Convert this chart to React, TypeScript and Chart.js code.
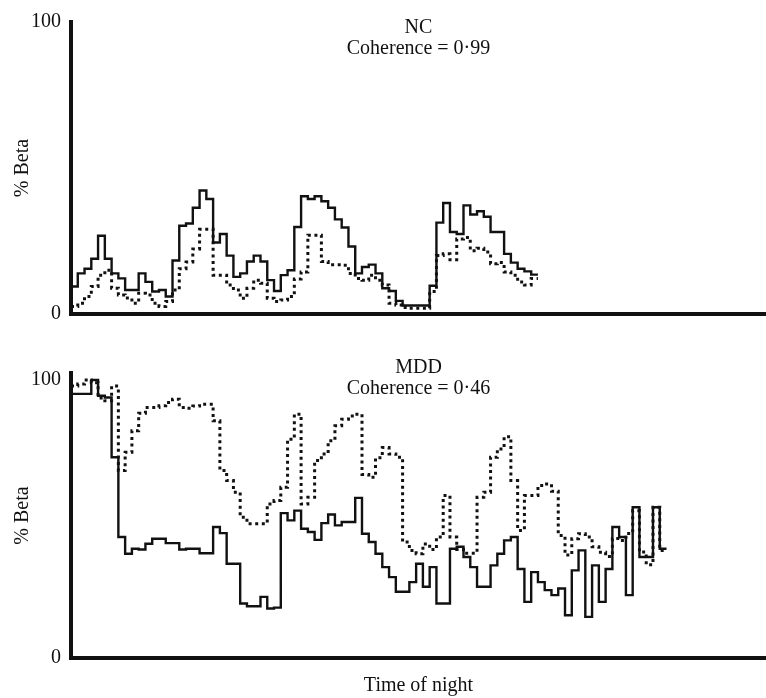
import React, { useEffect, useRef } from "react";
import { Chart, registerables } from "chart.js";

Chart.register(...registerables);

// ---- data (one value per epoch, % beta) ----
const NC_SOLID = [
  9.4, 13.9, 15.5, 18.9, 26.8, 18.9, 13.9, 12.2, 8.2, 8.2,
  13.9, 11, 7.7, 8.2, 6, 18.3, 30.2, 31, 36.4, 42.3,
  39.4, 24.5, 27.4, 20, 12.7, 13.9, 18, 20, 18, 11.6,
  7.9, 13.3, 15, 29.8, 40.3, 39.4, 40.3, 38.6, 36.4, 32.4,
  29.6, 23.1, 13.9, 16.1, 16.9, 13.9, 8.8, 7.9, 4.5, 2.9,
  2.9, 2.9, 2.9, 9.7, 31.3, 38, 28.1, 27.4, 37.2, 34.1,
  35.2, 33.3, 28.1, 28.1, 20.6, 17.6, 15.5, 14.6, 13.5,
];
const NC_DOTTED = [
  2.6, 3.7, 6, 9.4, 13.3, 15, 8.8, 6.5, 5.5, 3.7,
  7.1, 6.5, 3.7, 2.6, 4.3, 8.2, 15.5, 17.8, 22.3, 29,
  29, 13.3, 13.3, 9.9, 8.2, 5.4, 8.8, 11.6, 10.5, 5.4,
  4.3, 4.8, 6, 12, 14.4, 27, 27, 18, 16.9, 16.9,
  16.7, 13.9, 12.2, 11.6, 13.3, 11.6, 9.9, 3.7, 3.1, 2.2,
  2, 2, 2, 7.7, 20, 20.6, 18.6, 25.7, 26.2, 21.7,
  22.5, 21.2, 17.2, 17.6, 14.4, 13.3, 11, 9.9, 12.2,
];
const MDD_SOLID = [
  95, 95, 95, 100, 94.3, 93.7, 72.2, 43.5, 37.5, 39.3,
  39, 41.1, 42.9, 42.9, 41.3, 41.3, 39, 39.3, 39.3, 37.7,
  37.7, 47.1, 44.9, 33.9, 33.9, 19.6, 18.6, 18.6, 22, 17.8,
  18.1, 52.1, 49.5, 53, 46.5, 45.3, 42.5, 48.5, 51.6, 47.7,
  48.9, 48.9, 57.6, 44.7, 41.7, 37.5, 32.7, 29.1, 23.8, 23.8,
  27.3, 33.9, 25.6, 32.7, 19.6, 19.6, 39.3, 40, 36.3, 32.7,
  25.6, 25.6, 33.3, 37.5, 42.3, 43.5, 32, 20.2, 30.9, 27.3,
  24.4, 22.6, 25, 15.4, 31.5, 38.7, 14.8, 33.3, 20.2, 32,
  47.1, 43.5, 22.6, 54.2, 36.3, 36.3, 54.2, 39.3,
];
const MDD_DOTTED = [
  97.8, 98.5, 100, 99, 93.5, 92.5, 97.8, 67.4, 74, 81.7,
  88, 90.1, 90.1, 90.7, 91.9, 93.1, 90.1, 89.8, 90.6, 91.3,
  91.3, 85.3, 67.4, 63.8, 59.6, 50.6, 48.3, 48.3, 48.3, 55.4,
  56.6, 61.4, 78.7, 87.7, 55.4, 57.8, 71, 73.4, 78.1, 83.5,
  85.9, 87, 87.7, 66, 65, 72, 75.7, 73.4, 72.2, 41.7,
  38.7, 37.5, 41, 39, 43.5, 58.4, 43.5, 39, 37.7, 37.7,
  57.8, 59.6, 72.2, 75.2, 79.6, 63.8, 45.9, 58.4, 58.4, 62,
  62.6, 60, 44.1, 37, 42.9, 44.7, 43.5, 40, 38, 36.5,
  43, 42.3, 44.8, 53, 38.1, 33.5, 54.2, 38.7,
];

const Y_TICKS = [0, 100];
const NC_TITLE = ["NC", "Coherence = 0·99"];
const MDD_TITLE = ["MDD", "Coherence = 0·46"];
const Y_LABEL = "% Beta";
const X_LABEL = "Time of night";
const X_EPOCHS = 102.7;

const INK = "#111111";
const FONT = { family: '"Liberation Serif", "Times New Roman", serif', size: 20 };

function toSteps(values: number[]) {
  const pts = values.map((v, i) => ({ x: i, y: v }));
  pts.push({ x: values.length, y: values[values.length - 1] });
  return pts;
}

const panelTitlePlugin = {
  id: "panelTitle",
  afterDraw(chart: any, _args: any, opts: any) {
    if (!opts || !opts.lines) return;
    const { ctx, chartArea } = chart;
    ctx.save();
    ctx.font = `${FONT.size}px ${FONT.family}`;
    ctx.fillStyle = INK;
    ctx.textAlign = "center";
    ctx.textBaseline = "alphabetic";
    const cx = (chartArea.left + chartArea.right) / 2;
    opts.lines.forEach((t: string, i: number) => {
      ctx.fillText(t, cx, opts.baseline + i * opts.gap);
    });
    ctx.restore();
  },
};

function makeConfig(
  solid: number[],
  dotted: number[],
  title: string[],
  yMax: number,
  padTop: number,
  xAxisHeight: number,
  showXTitle: boolean
): any {
  return {
    type: "line",
    data: {
      datasets: [
        {
          data: toSteps(dotted),
          stepped: true,
          borderColor: INK,
          borderWidth: 3,
          borderDash: [3, 3.6],
          borderCapStyle: "butt",
          pointRadius: 0,
          fill: false,
        },
        {
          data: toSteps(solid),
          stepped: true,
          borderColor: INK,
          borderWidth: 2.4,
          pointRadius: 0,
          fill: false,
        },
      ],
    },
    options: {
      responsive: false,
      animation: false,
      parsing: false,
      layout: { padding: { top: padTop, left: 0, right: 0, bottom: 0 } },
      plugins: {
        legend: { display: false },
        tooltip: { enabled: false },
        panelTitle: { lines: title, baseline: 33, gap: 21 },
      },
      scales: {
        x: {
          type: "linear",
          min: 0,
          max: X_EPOCHS,
          grid: { display: false, drawTicks: false },
          ticks: { display: false },
          border: { display: true, width: 4, color: INK },
          title: {
            display: showXTitle,
            text: X_LABEL,
            font: FONT,
            color: INK,
            padding: { top: 0, bottom: 0 },
          },
          afterFit: (s: any) => {
            s.height = xAxisHeight;
          },
        },
        y: {
          type: "linear",
          min: 0,
          max: yMax,
          afterBuildTicks: (s: any) => {
            s.ticks = Y_TICKS.map((v) => ({ value: v }));
          },
          grid: { display: false, drawTicks: false },
          border: { display: true, width: 4, color: INK },
          ticks: { padding: 10, font: FONT, color: INK },
          title: {
            display: true,
            text: Y_LABEL,
            font: FONT,
            color: INK,
            padding: { top: 11, bottom: 0 },
          },
          afterFit: (s: any) => {
            s.width = 71;
          },
        },
      },
    },
    plugins: [panelTitlePlugin],
  };
}

export default function App() {
  const topRef = useRef<HTMLCanvasElement>(null);
  const botRef = useRef<HTMLCanvasElement>(null);

  useEffect(() => {
    document.body.style.margin = "0";
    const c1 = new Chart(
      topRef.current as HTMLCanvasElement,
      makeConfig(NC_SOLID, NC_DOTTED, NC_TITLE, 100, 20, 26, false)
    );
    const c2 = new Chart(
      botRef.current as HTMLCanvasElement,
      makeConfig(MDD_SOLID, MDD_DOTTED, MDD_TITLE, 102.5, 33, 40, true)
    );
    return () => {
      c1.destroy();
      c2.destroy();
    };
  }, []);

  return (
    <div style={{ position: "relative", width: 766, height: 698, background: "#fff" }}>
      <canvas
        ref={topRef}
        width={766}
        height={340}
        style={{ position: "absolute", left: 0, top: 0, width: 766, height: 340 }}
      />
      <canvas
        ref={botRef}
        width={766}
        height={358}
        style={{ position: "absolute", left: 0, top: 340, width: 766, height: 358 }}
      />
    </div>
  );
}
